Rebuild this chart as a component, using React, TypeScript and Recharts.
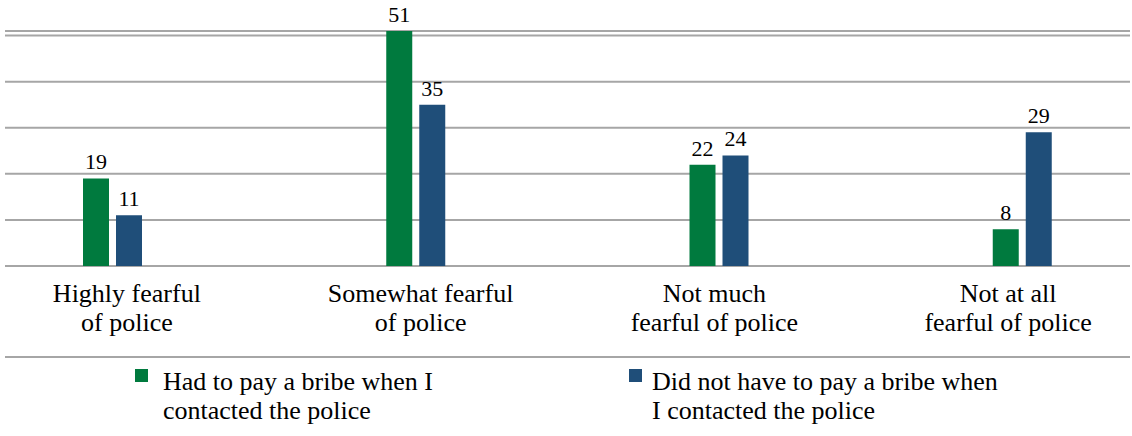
import { Bar, BarChart, CartesianGrid, LabelList, Legend, XAxis, YAxis } from "recharts";

const categories = [
  "Highly fearful\nof police",
  "Somewhat fearful\nof police",
  "Not much\nfearful of police",
  "Not at all\nfearful of police",
];
const paidBribe = [19, 51, 22, 8];
const noBribe = [11, 35, 24, 29];
const seriesNames = [
  "Had to pay a bribe when I\ncontacted the police",
  "Did not have to pay a bribe when\nI contacted the police",
];
const yTicks = [0, 10, 20, 30, 40, 50];

const GREEN = "#007a3e";
const BLUE = "#1f4e79";
const GRID = "#a6a6a6";
const FONT = "'Liberation Serif', Tinos, 'Times New Roman', serif";

const data = categories.map((name, i) => ({
  name,
  paid: paidBribe[i],
  notPaid: noBribe[i],
}));

const CategoryTick = ({ x, y, payload }: any) => {
  const lines = String(payload.value).split("\n");
  return (
    <text x={x} y={y} textAnchor="middle" fontFamily={FONT} fontSize={26} fill="#000">
      {lines.map((line, i) => (
        <tspan key={i} x={x} dy={i === 0 ? 6 : 29}>
          {line}
        </tspan>
      ))}
    </text>
  );
};

const legendItems = [
  { color: GREEN, name: seriesNames[0], box: 130, text: 158 },
  { color: BLUE, name: seriesNames[1], box: 624, text: 647 },
];

const ChartLegend = () => (
  <div
    style={{
      position: "relative",
      height: 80,
      boxSizing: "border-box",
      borderTop: `2px solid ${GRID}`,
      fontFamily: FONT,
      fontSize: 26,
      lineHeight: "29px",
      color: "#000",
    }}
  >
    {legendItems.map((item) => (
      <div key={item.name}>
        <span
          style={{
            position: "absolute",
            left: item.box,
            top: 11,
            width: 13,
            height: 13,
            background: item.color,
          }}
        />
        <span
          style={{
            position: "absolute",
            left: item.text,
            top: 9,
            whiteSpace: "pre",
          }}
        >
          {item.name}
        </span>
      </div>
    ))}
  </div>
);

export default function App() {
  return (
    <div style={{ fontFamily: FONT }}>
      <style>{`body{margin:0}`}</style>
      <BarChart
        width={1132}
        height={436}
        data={data}
        margin={{ top: 31, right: 2, left: 5, bottom: 0 }}
        barSize={26}
        barGap={7}
      >
        <CartesianGrid vertical={false} stroke={GRID} strokeWidth={2} />
        <XAxis
          xAxisId="bars"
          dataKey="name"
          hide
          padding={{ left: -44, right: -44 }}
        />
        <XAxis
          xAxisId="labels"
          dataKey="name"
          height={90}
          axisLine={false}
          tickLine={false}
          tickSize={0}
          tickMargin={0}
          interval={0}
          tick={<CategoryTick />}
          padding={{ left: -25, right: -25 }}
        />
        <YAxis hide domain={[0, 51]} ticks={yTicks} />
        <Legend verticalAlign="bottom" content={<ChartLegend />} />
        <Bar xAxisId="bars" dataKey="paid" name={seriesNames[0]} fill={GREEN} isAnimationActive={false}>
          <LabelList dataKey="paid" position="top" offset={9} fill="#000" fontFamily={FONT} fontSize={22} />
        </Bar>
        <Bar xAxisId="bars" dataKey="notPaid" name={seriesNames[1]} fill={BLUE} isAnimationActive={false}>
          <LabelList dataKey="notPaid" position="top" offset={9} fill="#000" fontFamily={FONT} fontSize={22} />
        </Bar>
      </BarChart>
    </div>
  );
}
